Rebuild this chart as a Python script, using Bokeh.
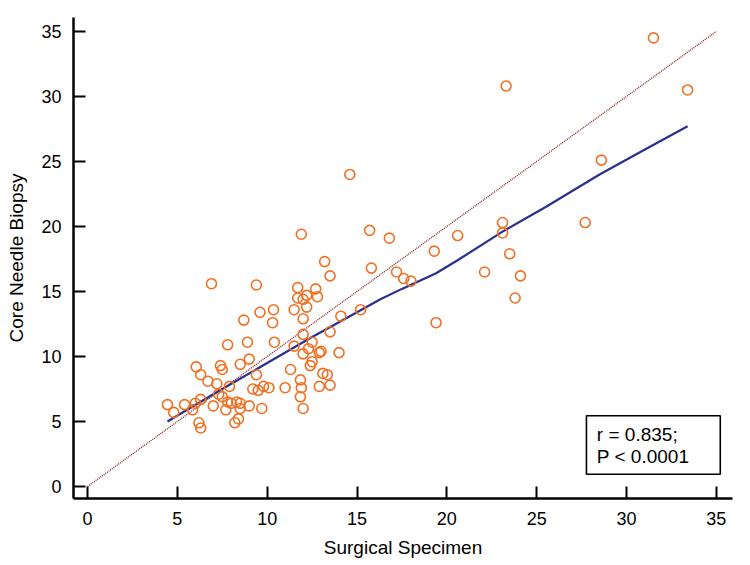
from bokeh.plotting import figure
from bokeh.models import Range1d, SingleIntervalTicker, BoxAnnotation, Label
from bokeh.embed import file_html
from bokeh.resources import INLINE

# Data: (surgical specimen, core needle biopsy)
surgical = [4.45, 4.8, 5.4, 5.85, 6.0, 6.05, 6.2, 6.3, 6.3, 6.3, 6.7, 6.9, 7.0, 7.2, 7.3,
            7.4, 7.5, 7.5, 7.7, 7.8, 7.8, 7.9, 8.0, 8.2, 8.3, 8.4, 8.5, 8.5, 8.5, 8.7,
            8.9, 9.0, 9.0, 9.2, 9.4, 9.4, 9.5, 9.6, 9.7, 9.8, 10.1, 10.3, 10.35, 10.4, 11.0,
            11.3, 11.5, 11.7, 11.5, 11.7, 11.85, 11.85, 11.9, 12.0, 11.9, 12.0, 12.0, 12.0, 12.0,
            12.2, 12.2, 12.3, 12.4, 12.5, 12.5, 12.7, 12.8, 12.9, 12.9, 13.0, 13.1, 13.35, 13.2,
            13.5, 13.5, 13.5, 14.0, 14.1, 14.6, 15.2, 15.7, 15.8, 16.8, 17.2, 17.6, 18.0, 19.3,
            19.4, 20.6, 22.1, 23.1, 23.1, 23.3, 23.5, 23.8, 24.1, 27.7, 28.6, 31.5, 33.4]
biopsy = [6.3, 5.7, 6.3, 5.9, 6.4, 9.2, 4.9, 4.5, 6.7, 8.6, 8.1, 15.6, 6.2, 7.9, 7.1,
          9.3, 9.0, 6.9, 5.9, 6.5, 10.9, 7.7, 6.4, 4.9, 6.5, 5.2, 6.0, 6.4, 9.4, 12.8,
          11.1, 9.8, 6.2, 7.5, 15.5, 8.6, 7.4, 13.4, 6.0, 7.7, 7.6, 12.6, 13.6, 11.1, 7.6,
          9.0, 13.6, 15.3, 10.8, 14.5, 8.2, 6.9, 7.6, 6.0, 19.4, 12.9, 11.7, 10.2, 14.4,
          14.7, 13.8, 10.6, 9.3, 11.1, 9.6, 15.2, 14.6, 10.3, 7.7, 10.4, 8.7, 8.6, 17.3,
          16.2, 11.9, 7.8, 10.3, 13.1, 24.0, 13.6, 19.7, 16.8, 19.1, 16.5, 16.0, 15.8, 18.1,
          12.6, 19.3, 16.5, 20.3, 19.5, 30.8, 17.9, 14.5, 16.2, 20.3, 25.1, 34.5, 30.5]

# LOWESS fit curve
fit_x = [4.45, 7.0, 10.0, 12.5, 14.6, 16.3, 17.5, 19.4, 20.6, 23.1, 25.5, 28.5, 31.0, 33.4]
fit_y = [5.0, 7.1, 9.5, 11.5, 13.1, 14.4, 15.2, 16.4, 17.4, 19.6, 21.5, 24.0, 25.9, 27.7]

# Line of identity
ident = [0, 35]

x_label = "Surgical Specimen"
y_label = "Core Needle Biopsy"
stat_lines = ["r = 0.835;", "P < 0.0001"]

FONT = "Liberation Sans"

p = figure(width=745, height=560, output_backend="svg", toolbar_location=None,
           x_range=Range1d(-0.78, 35.9), y_range=Range1d(-0.92, 36.07),
           min_border_left=73, min_border_right=13, min_border_top=17, min_border_bottom=60)
p.outline_line_color = None
p.grid.visible = False
p.background_fill_color = "white"
p.border_fill_color = "white"

for ax in (p.xaxis[0], p.yaxis[0]):
    ax.ticker = SingleIntervalTicker(interval=5)
    ax.minor_tick_line_color = None
    ax.major_tick_in = 12
    ax.major_tick_out = 0
    ax.major_tick_line_width = 2
    ax.major_tick_line_color = "black"
    ax.axis_line_width = 2.5
    ax.axis_line_color = "black"
    ax.major_label_text_font = FONT
    ax.major_label_text_font_size = "18px"
    ax.major_label_text_color = "black"
    ax.axis_label_text_font = FONT
    ax.axis_label_text_font_size = "19px"
    ax.axis_label_text_font_style = "normal"
    ax.axis_label_text_color = "black"

p.xaxis.axis_label = x_label
p.yaxis.axis_label = y_label
p.xaxis.major_label_standoff = 9
p.yaxis.major_label_standoff = 8
p.xaxis.axis_label_standoff = 9
p.yaxis.axis_label_standoff = 11

p.line(ident, ident, line_color="#8E2A2A", line_width=1.4, line_dash="1 1")
p.line(fit_x, fit_y, line_color="#2B2F8F", line_width=2.2)
p.scatter(surgical, biopsy, marker="circle", size=10, fill_color=None,
          line_color="#F07022", line_width=1.6)

box = BoxAnnotation(left=27.77, right=35.22, bottom=0.95, top=5.44,
                    fill_color="white", fill_alpha=1.0, line_color="black",
                    line_alpha=1.0, line_width=1.6)
p.add_layout(box)
p.add_layout(Label(x=28.35, y=3.98, text=stat_lines[0], text_font=FONT, text_font_size="19px",
                   text_baseline="middle", text_align="left", text_color="black"))
p.add_layout(Label(x=28.35, y=2.30, text=stat_lines[1], text_font=FONT, text_font_size="19px",
                   text_baseline="middle", text_align="left", text_color="black"))

open("out.html", "w").write(file_html(p, INLINE))
